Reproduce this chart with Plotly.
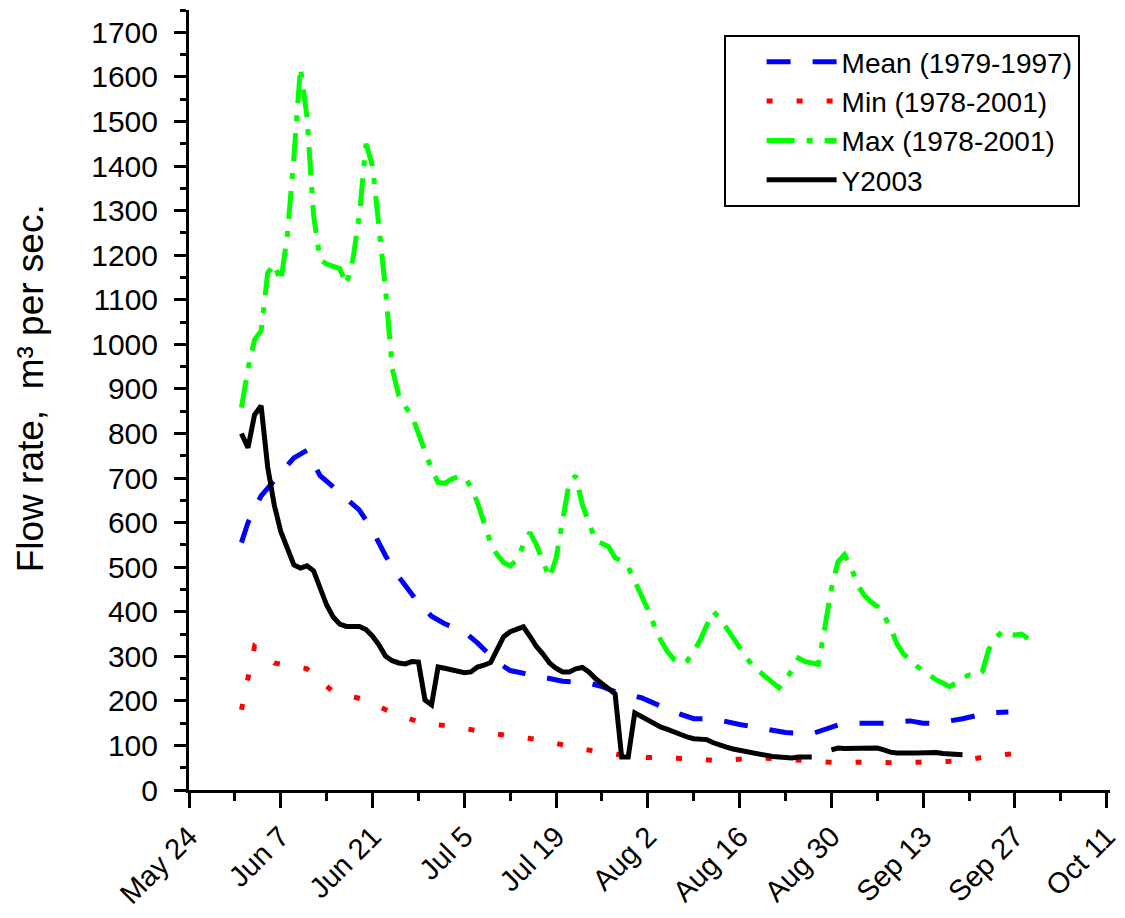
import plotly.graph_objects as go
import pandas as pd

START = pd.Timestamp("2003-05-24")

# ---- data (day offsets from May 24, values in m3/s) ----
mean_days = [8, 9, 11, 14, 16, 18, 19, 20, 22, 24, 26, 28, 30, 32, 35, 37, 39, 42, 44, 47,
             49, 51, 54, 57, 61, 63, 65, 69, 72, 74, 77, 80, 84, 87, 91, 95, 97, 99, 102,
             106, 110, 112, 114, 118, 122, 125]
mean_vals = [555, 600, 660, 712, 745, 762, 735, 705, 680, 655, 628, 582, 525, 478, 420, 390,
             373, 355, 330, 287, 268, 262, 254, 244, 240, 232, 221, 207, 188, 175, 160, 160,
             147, 140, 129, 126, 135, 146, 150, 150, 155, 150, 150, 160, 173, 175]

min_days = [8, 9, 10, 13, 18, 22, 27, 31, 36, 40, 45, 50, 54, 59, 63, 68, 72, 77, 81, 86,
            90, 95, 99, 104, 108, 113, 118, 122, 127]
min_vals = [180, 247, 322, 285, 272, 220, 202, 173, 148, 144, 130, 119, 112, 94, 85, 74, 72,
            70, 65, 72, 70, 65, 61, 63, 61, 63, 65, 76, 83]

max_days = list(range(8, 129))
max_vals = [858, 945, 1010, 1030, 1160, 1180, 1140, 1245, 1420, 1621,
            1510, 1290, 1190, 1180, 1175, 1170, 1134, 1190, 1290, 1450,
            1400, 1270, 1120, 945, 885, 860, 840, 800, 757, 720,
            690, 688, 697, 703, 703, 680, 645, 597, 555, 528,
            510, 503, 515, 550, 578, 550, 510, 476, 520, 610,
            690, 705, 640, 600, 560, 553, 546, 521, 514, 500,
            470, 435, 405, 368, 335, 310, 293, 283, 290, 310,
            337, 370, 400, 385, 362, 340, 318, 298, 278, 265,
            254, 242, 229, 245, 270, 296, 288, 285, 282, 365,
            452, 512, 528, 500, 460, 437, 422, 412, 392, 365,
            328, 305, 290, 278, 268, 256, 247, 240, 232, 240,
            252, 258, 255, 265, 315, 340, 355, 349, 348, 350,
            340]

y2003_days = list(range(8, 119))
y2003_vals = [800, 768, 842, 862, 725, 640, 580, 539, 505, 498,
              503, 492, 455, 415, 388, 372, 367, 367, 367, 360,
              345, 325, 300, 290, 285, 283, 288, 287, 202, 191,
              276, 273, 270, 265, 263, 265, 276, 280, 286, 315,
              344, 355, 362, 366, 345, 322, 305, 285, 273, 265,
              265, 272, 275, 265, 250, 238, 226, 216, 74, 74,
              173, 165, 155, 146, 141, 136, 130, 125, 119, 115,
              114, 113, 106, 100, 96, 92, 89, 85, 82, 79,
              77, 75, 74, 73, 72, 74, 73, 74, None, None,
              90, 94, 93, 93, 92, 93, 92, 94, 90, 85,
              83, 82, 83, 83, 84, 85, 84, 82, 81, 80,
              79]

names = ["Mean (1979-1997)", "Min (1978-2001)", "Max (1978-2001)", "Y2003"]


def to_dates(days):
    return [START + pd.Timedelta(days=d) for d in days]


FONT = "Liberation Sans, Arial, sans-serif"

fig = go.Figure()
fig.add_trace(go.Scatter(x=to_dates(mean_days), y=mean_vals, mode="lines", name=names[0],
                         line=dict(color="#0000ff", width=5, dash="24px,22px")))
fig.add_trace(go.Scatter(x=to_dates(min_days), y=min_vals, mode="lines", name=names[1],
                         line=dict(color="#ff0000", width=5, dash="6px,24px")))
fig.add_trace(go.Scatter(x=to_dates(max_days), y=max_vals, mode="lines", name=names[2],
                         line=dict(color="#00ff00", width=5, dash="28px,12px,6px,12px")))
fig.add_trace(go.Scatter(x=to_dates(y2003_days), y=y2003_vals, mode="lines", name=names[3],
                         line=dict(color="#000000", width=5), connectgaps=False))

DAY = 86400000
fig.update_layout(
    width=1125, height=918,
    margin=dict(l=181, r=23, t=2, b=136, autoexpand=False),
    paper_bgcolor="white", plot_bgcolor="white",
    font=dict(family=FONT, size=29, color="black"),
    showlegend=True,
    legend=dict(x=0.967, y=0.968, xanchor="right", yanchor="top",
                bordercolor="black", borderwidth=2, bgcolor="white",
                font=dict(size=28), itemwidth=70, tracegroupgap=0, indentation=36),
    xaxis=dict(type="date", automargin=False,
               range=[START, START + pd.Timedelta(days=140.5)],
               tick0=START, dtick=14 * DAY, tickformat="%b %-d",
               tickangle=-45, ticks="outside", ticklen=15, tickwidth=3, tickcolor="black",
               showline=True, linewidth=3, linecolor="black", showgrid=False, zeroline=False,
               minor=dict(tick0=START, dtick=7 * DAY, ticks="outside", ticklen=8,
                          tickwidth=3, tickcolor="black", showgrid=False),
               tickfont=dict(size=29)),
    yaxis=dict(range=[0, 1750], tick0=0, dtick=100, automargin=False,
               ticks="outside", ticklen=12, tickwidth=3, tickcolor="black",
               ticklabelstandoff=10,
               showline=True, linewidth=3, linecolor="black", showgrid=False, zeroline=False,
               minor=dict(dtick=50, ticks="outside", ticklen=6, tickwidth=3,
                          tickcolor="black", showgrid=False),
               tickfont=dict(size=30)),
    annotations=[dict(text="Flow rate,  m³ per sec.", xref="paper", yref="paper",
                      x=-0.1726, y=0.515, xanchor="center", yanchor="middle",
                      textangle=-90, showarrow=False, font=dict(size=37))],
)

fig.write_html("out.html")
